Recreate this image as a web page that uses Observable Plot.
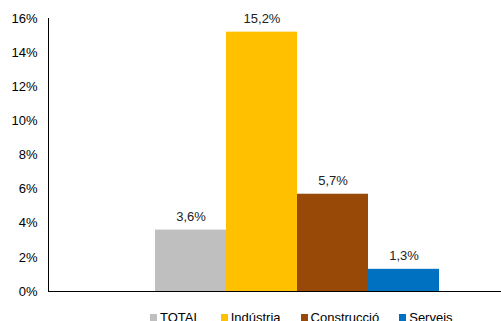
<!DOCTYPE html>
<html>
<head>
<meta charset="utf-8">
<script src="https://cdn.jsdelivr.net/npm/d3@7"></script>
<script src="https://cdn.jsdelivr.net/npm/@observablehq/plot@0.6"></script>
<style>
  body { margin: 0; background: #fff; font-family: "Liberation Sans", Arial, sans-serif; }
  #legend { display: flex; align-items: center; margin-top: 10px; padding-left: 150px; font-size: 13px; color: #000; line-height: 15px; }
  #legend .item { display: flex; align-items: center; margin-right: 20px; }
  #legend .sw { width: 7px; height: 7px; margin-right: 3px; }
</style>
</head>
<body>
<div id="chart"></div>
<div id="legend"></div>
<script>
const categories = ["TOTAL", "Indústria", "Construcció", "Serveis"];
const values = [3.6, 15.2, 5.7, 1.3];
const colors = ["#BFBFBF", "#FFC000", "#984807", "#0070C0"];
const yTicks = [0, 2, 4, 6, 8, 10, 12, 14, 16];

const data = categories.map((c, i) => ({ cat: c, value: values[i] }));
const fmt = v => v.toFixed(1).replace(".", ",") + "%";

const plot = Plot.plot({
  width: 501,
  height: 300,
  marginTop: 18,
  marginBottom: 9,
  marginLeft: 48,
  marginRight: 0,
  style: { fontFamily: "'Liberation Sans', Arial, sans-serif", fontSize: "13px", color: "#000" },
  x: { domain: categories, range: [155, 439], padding: 0, axis: null },
  y: { domain: [0, 16], ticks: yTicks, tickFormat: d => d + "%", tickSize: 0, tickPadding: 11, label: null },
  color: { domain: categories, range: colors },
  marks: [
    Plot.barY(data, { x: "cat", y: "value", fill: "cat", inset: 0 }),
    Plot.text(data, { x: "cat", y: "value", text: d => fmt(d.value), lineAnchor: "bottom", dy: -9, fill: "#222", fontSize: 13 }),
    Plot.ruleY([0], { stroke: "#000", strokeWidth: 1 }),
    Plot.frame({ anchor: "left", stroke: "#000", strokeWidth: 1 })
  ]
});
document.getElementById("chart").appendChild(plot);

const legend = document.getElementById("legend");
categories.forEach((c, i) => {
  const item = document.createElement("div");
  item.className = "item";
  const sw = document.createElement("span");
  sw.className = "sw";
  sw.style.background = colors[i];
  const t = document.createElement("span");
  t.textContent = c;
  item.appendChild(sw);
  item.appendChild(t);
  legend.appendChild(item);
});
</script>
</body>
</html>
